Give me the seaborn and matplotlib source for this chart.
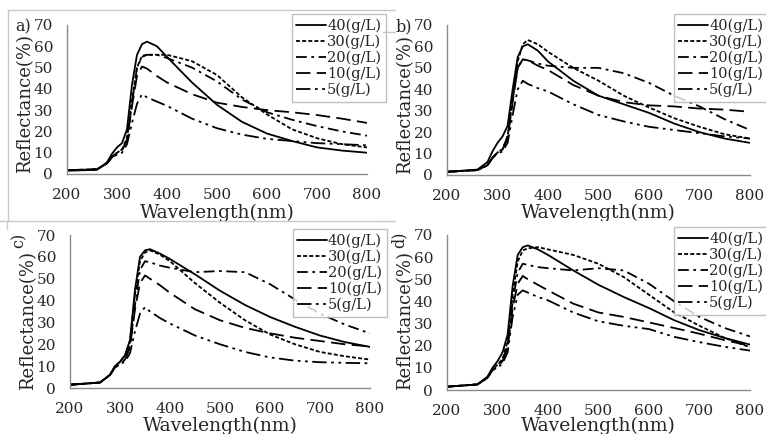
import numpy as np
import pandas as pd
import matplotlib
matplotlib.use("Agg")
import matplotlib.pyplot as plt
from matplotlib.lines import Line2D
from matplotlib.transforms import Bbox, TransformedBbox
import seaborn as sns

# wavelength grid (nm) used for every curve
wavelength = [200, 260, 280, 290, 300, 310, 320, 330, 340, 350, 360, 380,
              400, 450, 500, 550, 600, 650, 700, 750, 800]

conc_labels = ["40(g/L)", "30(g/L)", "20(g/L)", "10(g/L)", "5(g/L)"]

# panel a)
a40 = [1.5, 2.0, 5.5, 9.5, 12.5, 14.5, 21, 42, 56, 61, 62.2, 60, 55, 43, 32.5, 24.5, 19, 15.5, 12.5, 11, 10]
a30 = [1.8, 2.2, 5, 8, 10, 11.5, 17, 35, 50, 55.5, 56, 56, 56, 53, 46.5, 36, 28, 21, 16.8, 14, 12.5]
a20 = [1.8, 2.2, 5, 8, 10, 11.5, 16, 33, 50, 55, 56, 56, 54.5, 50, 43.5, 35, 29, 25.5, 22.5, 20, 18]
a10 = [1.8, 2.2, 5, 8, 9.5, 11, 16, 32, 46, 50.5, 49.5, 46, 43, 37.5, 33.5, 31.5, 30, 29, 27.7, 26, 24]
a5 = [1.8, 2.2, 5, 8, 9, 10, 14, 24, 33, 37.5, 36, 34, 32, 26, 21.5, 18.5, 16.5, 15.5, 14.5, 14, 13.5]

# panel b)
b40 = [1.5, 2.5, 6, 11, 15, 18, 23, 40, 55, 60, 61, 58, 53, 44, 37, 33, 29, 24, 20, 17, 15]
b30 = [1.5, 2.3, 4.5, 8, 10.5, 12, 18, 36, 53, 61, 63, 61, 57.5, 50, 44, 37, 31.5, 26.5, 22.5, 19, 17]
b20 = [1.5, 2.3, 4.5, 8, 10.5, 12, 18, 35, 50, 54, 53.5, 52, 51, 50, 50, 47.5, 43, 37, 32, 26, 21]
b10 = [1.5, 2.3, 4.5, 8, 10.5, 12, 17, 34, 50, 54, 53.5, 51, 49, 42, 37, 34, 32.5, 32, 31, 30.5, 29.5]
b5 = [1.5, 2.3, 4.5, 8, 10, 11, 15, 28, 40, 44, 42.5, 40.5, 39, 33, 28, 25, 22.5, 21, 19.5, 18, 17]

# panel c)
c40 = [1.5, 2.5, 6, 10, 12, 15, 22, 45, 60, 63, 63.5, 61.5, 59, 52, 44.5, 38, 32.5, 28, 24, 21, 18.8]
c30 = [1.5, 2.5, 6, 10, 12, 15, 21, 43, 58, 62, 63, 61, 58, 48, 39, 31, 24.5, 20, 16.5, 14.5, 13]
c20 = [1.5, 2.5, 6, 9.5, 11, 13, 19, 38, 54, 58, 57.5, 56, 55, 53, 53.5, 53, 47.5, 40.5, 34, 29, 25]
c10 = [1.5, 2.5, 6, 9.5, 11, 13, 19, 36, 48, 51.5, 50, 47, 43.5, 36, 31, 27.5, 25, 23, 21.5, 20, 19]
c5 = [1.5, 2.5, 6, 9.5, 11, 12, 16, 26, 34, 37, 35, 32, 29.5, 24, 20, 16.5, 14, 12.5, 11.8, 11.5, 11.3]

# panel d)
d40 = [1.5, 2.5, 6, 10, 13, 17, 25, 47, 61, 64.5, 65.3, 63.5, 61, 54, 47.5, 42, 37, 31.5, 27, 23.5, 20.5]
d30 = [1.5, 2.5, 5.5, 9, 11.5, 14, 22, 43, 58, 63, 64, 64.5, 63.5, 61, 57, 51, 43, 35, 29, 23.5, 19.3]
d20 = [1.5, 2.5, 5.5, 9, 11, 13.5, 20, 40, 53, 57, 56.5, 55.5, 55, 54, 55, 54, 48, 40, 33, 28, 24.2]
d10 = [1.5, 2.5, 5.5, 9, 10.5, 13, 19, 37, 48, 51.5, 50, 47.5, 45, 39, 35, 33, 30.5, 28, 25.4, 22.5, 20]
d5 = [1.5, 2.5, 5.5, 9, 10, 12, 17, 33, 43, 45, 44, 42, 40.5, 35, 31, 29, 27.5, 24, 21.6, 19.5, 17.8]

panels = {
    "a)": [a40, a30, a20, a10, a5],
    "b)": [b40, b30, b20, b10, b5],
    "c)": [c40, c30, c20, c10, c5],
    "d)": [d40, d30, d20, d10, d5],
}

line_styles = ["-", (0, (2.2, 1.2)), (0, (6, 2.5, 1.5, 2.5)), (0, (8, 3.5)),
               (0, (8, 2.5, 1.5, 2.5, 1.5, 2.5))]

sns.set_style("white")
plt.rcParams["font.family"] = ["DejaVu Serif"]

W, H = 766, 434
fig = plt.figure(figsize=(W / 100, H / 100), dpi=100)

def fx(px):
    return px / W

def fy(py):
    return 1 - py / H

# axes boxes in pixels: x0, x1, y_top, y_bottom
boxes = {
    "a)": (67, 367, 25, 174),
    "b)": (447, 750, 25, 175),
    "c)": (70, 370, 235, 388),
    "d)": (447, 750, 235, 390),
}
# legend upper-left corners in pixels
legend_pos = {"a)": (292, 14), "b)": (674, 14), "c)": (293, 229), "d)": (674, 227)}
# vertical centre of the y label, in pixels
ylabel_mid = {"a)": 104, "b)": 104, "c)": 320, "d)": 320}

for key, series in panels.items():
    x0, x1, yt, yb = boxes[key]
    h = yb - yt
    ax = fig.add_axes([fx(x0), fy(yb), fx(x1 - x0), h / H])
    for lab, vals, ls in zip(conc_labels, series, line_styles):
        sns.lineplot(x=wavelength, y=vals, ax=ax, color="black", lw=1.3,
                     linestyle=ls, label=lab)
    ax.set_xlim(200, 800)
    ax.set_ylim(0, 70)
    ax.set_xticks(range(200, 801, 100))
    ax.set_yticks(range(0, 71, 10))
    for s in ["top", "right"]:
        ax.spines[s].set_visible(False)
    for s in ["left", "bottom"]:
        ax.spines[s].set_color("#8a8a8a")
        ax.spines[s].set_linewidth(1.0)
    ax.tick_params(direction="in", length=4, color="#8a8a8a", labelsize=11,
                   pad=10)
    ax.set_xlabel("Wavelength(nm)", fontsize=13.5)
    ax.set_ylabel("Reflectance(%)", fontsize=13)
    if yt < 100:
        ax.xaxis.set_label_coords(0.5, -(204 - yb) / h)
        # top-row x labels are cut off by the lower screenshots
        clip = TransformedBbox(Bbox([[0, fy(221)], [1, 1]]), fig.transFigure)
        ax.xaxis.label.set_clip_box(clip)
        ax.xaxis.label.set_clip_on(True)
    else:
        ax.xaxis.set_label_coords(0.5, -(417 - yb) / h)
    ax.yaxis.set_label_coords(-33 / (x1 - x0), (yb - ylabel_mid[key]) / h)
    lx, ly = legend_pos[key]
    leg = ax.legend(loc="upper left", bbox_to_anchor=(fx(lx), fy(ly)),
                    bbox_transform=fig.transFigure, frameon=True, fancybox=False,
                    fontsize=10.5, handlelength=2.0, handletextpad=0.1,
                    labelspacing=0.12, borderpad=0.3, borderaxespad=0)
    leg.get_frame().set_edgecolor("#b0b0b0")
    leg.get_frame().set_linewidth(1.0)
    # panel letter
    if key in ("a)", "b)"):
        fig.text(fx(x0 - 52 if key == "a)" else x0 - 51), fy(27), key,
                 fontsize=11.5, ha="left", va="center")
    else:
        fig.text(fx(x0 - 51 if key == "c)" else x0 - 48), fy(240), key,
                 fontsize=11.5, rotation=90, ha="center", va="center")

# light gray screenshot frames
frame_lines = [
    ((8, 385), (10, 10)),
    ((8, 8), (10, 221)),
    ((0, 385), (221, 221)),
    ((7, 7), (221, 229)),
    ((383, 395), (10, 10)),
    ((383, 395), (32, 32)),
    ((383, 395), (221, 221)),
]
for xs, ys in frame_lines:
    fig.add_artist(Line2D([fx(v) for v in xs], [fy(v) for v in ys],
                          color="#c8c8c8", lw=1.0, transform=fig.transFigure))

fig.savefig("out.png", dpi=100)
